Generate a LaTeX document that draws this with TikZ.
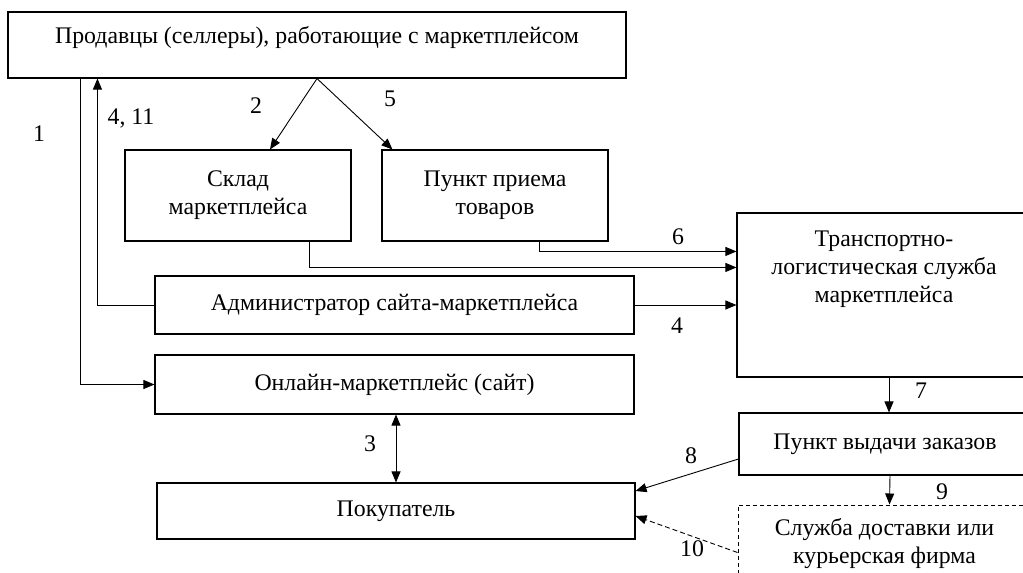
\documentclass[tikz,border=0pt]{standalone}
\usepackage{fontspec}
\setmainfont{Liberation Serif}
\usetikzlibrary{arrows.meta, positioning}

\begin{document}
\begin{tikzpicture}[x=1pt, y=-1pt,
  font=\fontsize{23.8}{28}\selectfont,
  >={Triangle[length=11pt, width=9pt]},
  box/.style={draw, line width=1.1pt, inner sep=0pt, align=center},
  dbox/.style={draw, line width=1pt, dash pattern=on 4pt off 3pt, inner sep=0pt},
  boxtext/.style={inner sep=0pt, align=center},
  num/.style={inner sep=0pt},
  arr/.style={line width=0.9pt, ->}]
\useasboundingbox (0,0) rectangle (1023,573);
\clip (0,0) rectangle (1023,573);

% blocks
\node[box, minimum width=618pt, minimum height=66pt] (sellers) at (317,45) {};
\node[boxtext, below=15pt of sellers.north] (sellersText) {Продавцы (селлеры), работающие с маркетплейсом};
\node[box, minimum width=226pt, minimum height=91pt] (sklad) at (238,195.5) {Склад\\маркетплейса};
\node[box, minimum width=226pt, minimum height=91pt] (priem) at (495,195.5) {Пункт приема\\товаров};
\node[box, minimum width=479pt, minimum height=58pt] (admin) at (394.5,305) {Администратор сайта-маркетплейса};
\node[box, minimum width=479pt, minimum height=59pt] (online) at (394.5,384.5) {Онлайн-маркетплейс (сайт)};
\node[box, minimum width=478pt, minimum height=56pt] (buyer) at (396,511) {Покупатель};
\node[box, minimum width=294pt, minimum height=164pt] (tls) at (884,295) {};
\node[boxtext, below=18pt of tls.north] (tlsText) {Транспортно-\\логистическая служба\\маркетплейса};
\node[box, minimum width=292pt, minimum height=62pt] (pvz) at (885,444) {Пункт выдачи заказов};
\node[dbox, minimum width=293pt, minimum height=105pt] (courier) at (884.5,557.5) {};
\node[boxtext, below=14pt of courier.north] (courierText) {Служба доставки или\\курьерская фирма};

% links
\draw[arr] ([xshift=73pt]sellers.south west) |- (online.west);
\draw[arr] (admin.west) -| ([xshift=90pt]sellers.south west);
\draw[arr] (sellers.south) -- ([xshift=32pt]sklad.north);
\draw[arr] (sellers.south) -- ([xshift=11pt]priem.north west);
\draw[arr] ([xshift=-69pt]priem.south east) |- ([yshift=-39pt]tls.north west);
\draw[arr] ([xshift=71pt]sklad.south) |- ([yshift=-55pt]tls.north west);
\draw[arr] (admin.east) -- (admin.east -| tls.west);
\draw[line width=0.9pt, <->] (buyer.north |- online.south) -- (buyer.north);
\draw[arr] ([xshift=5pt]tls.south) -- ([xshift=4pt]pvz.north);
\draw[arr] ([yshift=-15pt]pvz.west) -- ([yshift=20pt]buyer.east);
\draw[arr] ([xshift=5pt]pvz.south) -- ([xshift=5pt]courier.north);
\draw[arr, dash pattern=on 5pt off 3pt] ([yshift=-48pt]courier.north west) -- ([yshift=-5pt]buyer.east);

% numbers
\node[num] (n1) at (39,134) {1};
\node[num] (n411) at (131,118) {4, 11};
\node[num] (n2) at (256,106) {2};
\node[num] (n5) at (390,99) {5};
\node[num] (n6) at (678,237) {6};
\node[num] (n4) at (677,326) {4};
\node[num] (n3) at (370,444) {3};
\node[num] (n7) at (921,391) {7};
\node[num] (n8) at (691,456) {8};
\node[num] (n9) at (942,492) {9};
\node[num] (n10) at (692,549) {10};
\end{tikzpicture}
\end{document}
